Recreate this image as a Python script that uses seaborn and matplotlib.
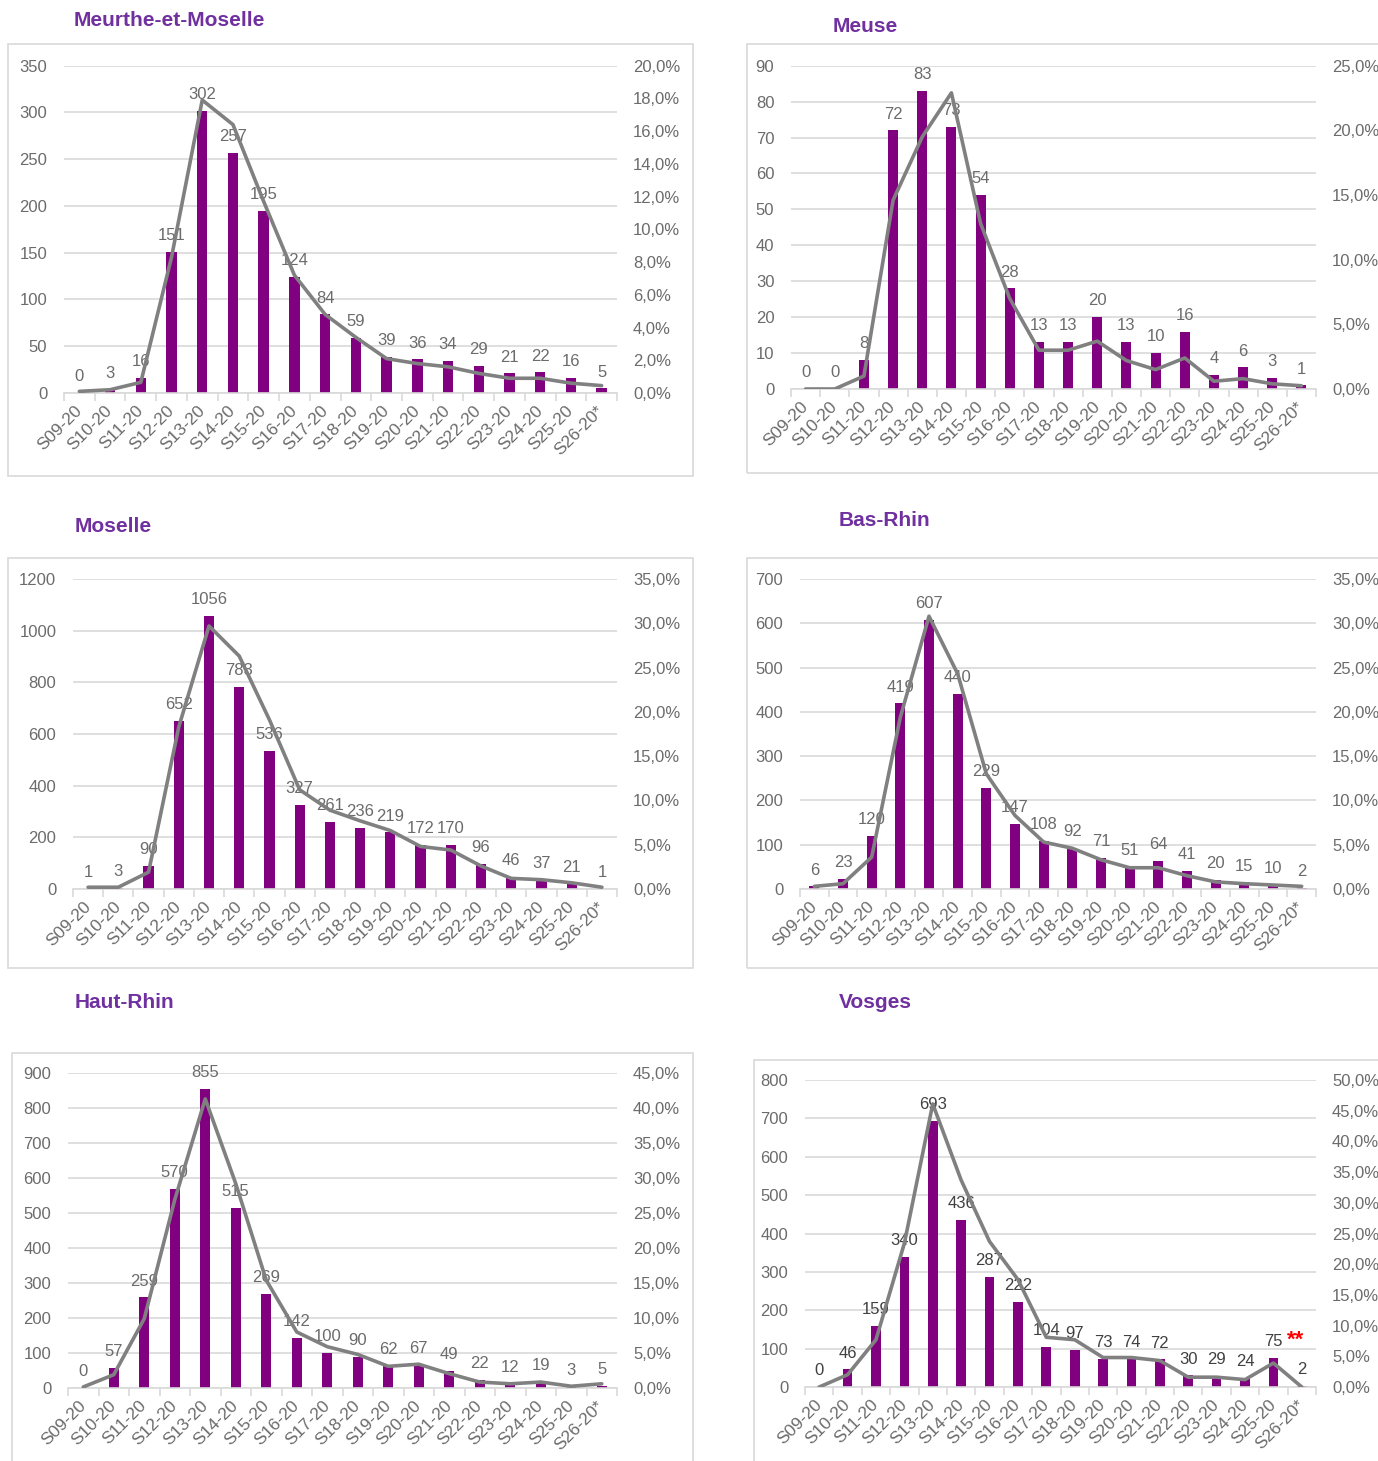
import matplotlib
matplotlib.use("Agg")
import matplotlib.pyplot as plt
import numpy as np
import seaborn as sns
from matplotlib.patches import Rectangle
from matplotlib.ticker import FuncFormatter, MultipleLocator

WEEKS = ["S09-20", "S10-20", "S11-20", "S12-20", "S13-20", "S14-20", "S15-20",
         "S16-20", "S17-20", "S18-20", "S19-20", "S20-20", "S21-20", "S22-20",
         "S23-20", "S24-20", "S25-20", "S26-20*"]

# bars: weekly counts, line: rate (%) on the right axis
MEURTHE_CASES = [0, 3, 16, 151, 302, 257, 195, 124, 84, 59, 39, 36, 34, 29, 21, 22, 16, 5]
MEURTHE_RATE = [0.1, 0.2, 0.65, 8.3, 17.9, 16.4, 11.7, 7.2, 4.8, 3.4, 2.1, 1.8, 1.6, 1.2, 0.9, 0.9, 0.6, 0.45]

MEUSE_CASES = [0, 0, 8, 72, 83, 73, 54, 28, 13, 13, 20, 13, 10, 16, 4, 6, 3, 1]
MEUSE_RATE = [0.0, 0.0, 1.0, 14.6, 19.5, 22.9, 12.8, 7.0, 3.0, 3.0, 3.7, 2.2, 1.5, 2.4, 0.6, 0.8, 0.4, 0.25]

MOSELLE_CASES = [1, 3, 90, 652, 1056, 783, 536, 327, 261, 236, 219, 172, 170, 96, 46, 37, 21, 1]
MOSELLE_RATE = [0.2, 0.2, 1.9, 18.3, 29.7, 26.3, 19.1, 11.2, 8.9, 7.7, 6.6, 4.8, 4.4, 2.6, 1.2, 1.05, 0.7, 0.2]

BAS_RHIN_CASES = [6, 23, 120, 419, 607, 440, 229, 147, 108, 92, 71, 51, 64, 41, 20, 15, 10, 2]
BAS_RHIN_RATE = [0.3, 0.6, 3.6, 19.4, 30.8, 24.3, 13.0, 8.3, 5.3, 4.6, 3.3, 2.4, 2.4, 1.5, 0.8, 0.6, 0.45, 0.3]

HAUT_RHIN_CASES = [0, 57, 259, 570, 855, 515, 269, 142, 100, 90, 62, 67, 49, 22, 12, 19, 3, 5]
HAUT_RHIN_RATE = [0.15, 1.9, 9.9, 26.9, 41.3, 29.2, 15.4, 8.0, 5.9, 4.8, 3.1, 3.4, 2.05, 0.85, 0.6, 0.85, 0.25, 0.6]

VOSGES_CASES = [0, 46, 159, 340, 693, 436, 287, 222, 104, 97, 73, 74, 72, 30, 29, 24, 75, 2]
VOSGES_RATE = [0.0, 2.0, 7.7, 23.4, 46.1, 33.7, 23.7, 17.5, 8.1, 7.7, 4.8, 4.8, 4.3, 1.6, 1.6, 1.2, 3.9, 0.0]

W, H = 1378, 1461
PURPLE = "#800080"
LINE_GREY = "#808080"
TEXT_GREY = "#6b6b6b"
GRID = "#d9d9d9"
TITLE_COLOR = "#70309f"

# layout in pixels: plot=(left, right, top, bottom), box=(x0, y0, x1, y1)
PANELS = [
    dict(title="Meurthe-et-Moselle", cases=MEURTHE_CASES, rate=MEURTHE_RATE,
         ymax=350, ystep=50, rmax=20, rstep=2,
         plot=(64, 617, 65.7, 393), box=(8, 44, 693, 476), title_xy=(74, 21)),
    dict(title="Meuse", cases=MEUSE_CASES, rate=MEUSE_RATE,
         ymax=90, ystep=10, rmax=25, rstep=5,
         plot=(791, 1316, 65.7, 389), box=(747, 44, 1390, 473), title_xy=(833, 27)),
    dict(title="Moselle", cases=MOSELLE_CASES, rate=MOSELLE_RATE,
         ymax=1200, ystep=200, rmax=35, rstep=5,
         plot=(73, 617, 579, 889), box=(8, 558, 693, 968), title_xy=(75, 527)),
    dict(title="Bas-Rhin", cases=BAS_RHIN_CASES, rate=BAS_RHIN_RATE,
         ymax=700, ystep=100, rmax=35, rstep=5,
         plot=(800, 1316, 579, 889), box=(747, 558, 1390, 968), title_xy=(839, 521)),
    dict(title="Haut-Rhin", cases=HAUT_RHIN_CASES, rate=HAUT_RHIN_RATE,
         ymax=900, ystep=100, rmax=45, rstep=5,
         plot=(68, 617, 1073, 1388), box=(12, 1053, 693, 1480), title_xy=(75, 1002)),
    dict(title="Vosges", cases=VOSGES_CASES, rate=VOSGES_RATE,
         ymax=800, ystep=100, rmax=50, rstep=5,
         plot=(805, 1316, 1080, 1387), box=(754, 1060, 1390, 1480), title_xy=(839, 1003),
         label_color="#404040", stars=16),
]

plt.rcParams["font.family"] = ["Liberation Sans", "DejaVu Sans"]

fig = plt.figure(figsize=(W / 100, H / 100), dpi=100)
fig.patch.set_facecolor("white")

pct = FuncFormatter(lambda v, _: f"{v:.1f}%".replace(".", ","))
n = len(WEEKS)

for p in PANELS:
    x0, y0, x1, y1 = p["box"]
    fig.add_artist(Rectangle((x0 / W, 1 - y1 / H), (x1 - x0) / W, (y1 - y0) / H,
                             transform=fig.transFigure, fill=False,
                             edgecolor=GRID, linewidth=1.2))
    tx, ty = p["title_xy"]
    fig.text(tx / W, 1 - ty / H, p["title"], ha="left", va="center",
             fontsize=15, fontweight="bold", color=TITLE_COLOR)

    left, right, top, bottom = p["plot"]
    ax = fig.add_axes([left / W, 1 - bottom / H, (right - left) / W, (bottom - top) / H])
    sns.barplot(x=WEEKS, y=p["cases"], ax=ax, color=PURPLE, saturation=1, width=0.34)
    ax.set_xlim(-0.5, n - 0.5)
    ax.set_ylim(0, p["ymax"])
    ax.yaxis.set_major_locator(MultipleLocator(p["ystep"]))
    ax.set_axisbelow(True)
    ax.grid(axis="y", color=GRID, linewidth=1.2)
    ax.grid(axis="x", visible=False)
    ax.set_xlabel("")
    ax.set_ylabel("")
    for side in ("top", "left", "right"):
        ax.spines[side].set_visible(False)
    ax.spines["bottom"].set_color(GRID)
    ax.spines["bottom"].set_linewidth(1.2)

    ax.set_xticks(range(n))
    ax.set_xticklabels(WEEKS, rotation=45, ha="right", va="center", rotation_mode="anchor")
    ax.set_xticks(np.arange(-0.5, n), minor=True)
    ax.tick_params(axis="x", which="major", length=0, pad=11, labelsize=12.5, labelcolor=TEXT_GREY)
    ax.tick_params(axis="x", which="minor", length=6, width=1.2, color=GRID)
    ax.tick_params(axis="y", length=0, pad=12, labelsize=12, labelcolor=TEXT_GREY)

    lc = p.get("label_color", TEXT_GREY)
    for i, v in enumerate(p["cases"]):
        ax.annotate(str(v), xy=(i, v), xytext=(0, 8.5), textcoords="offset points",
                    ha="center", va="baseline", fontsize=12, color=lc)
    if "stars" in p:
        i = p["stars"]
        ax.annotate("**", xy=(i, p["cases"][i]), xytext=(10, 9), textcoords="offset points",
                    ha="left", va="baseline", fontsize=16, fontweight="bold", color="red")

    ax2 = ax.twinx()
    sns.lineplot(x=np.arange(n), y=p["rate"], ax=ax2, color=LINE_GREY, linewidth=2.6,
                 legend=False, solid_joinstyle="round", solid_capstyle="round")
    ax2.set_xlim(-0.5, n - 0.5)
    ax2.set_ylim(0, p["rmax"])
    ax2.yaxis.set_major_locator(MultipleLocator(p["rstep"]))
    ax2.yaxis.set_major_formatter(pct)
    ax2.tick_params(axis="y", length=0, pad=11.5, labelsize=12, labelcolor=TEXT_GREY)
    ax2.set_ylabel("")
    ax2.grid(False)
    for side in ax2.spines:
        ax2.spines[side].set_visible(False)

fig.savefig("out.png", dpi=100, facecolor="white")
